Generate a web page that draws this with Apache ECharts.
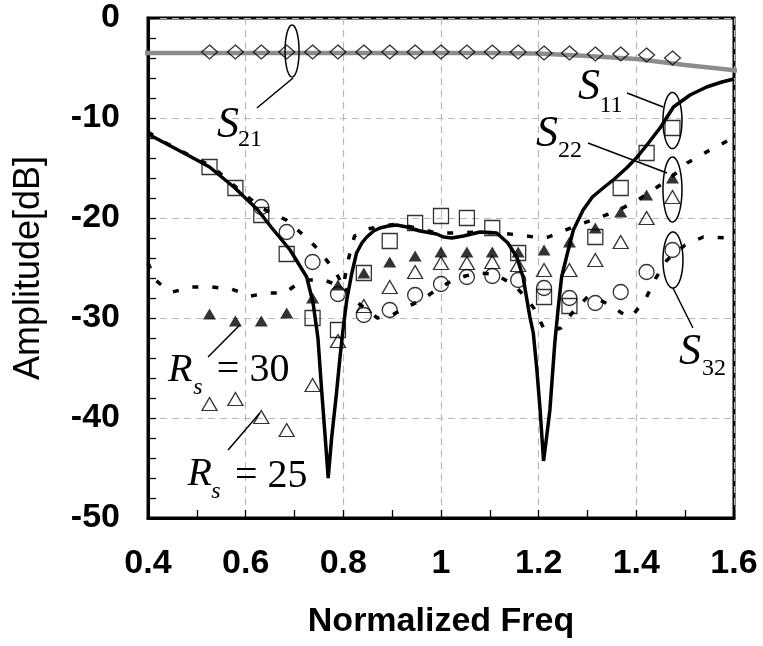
<!DOCTYPE html>
<html>
<head>
<meta charset="utf-8">
<script src="https://cdn.jsdelivr.net/npm/echarts@6/dist/echarts.min.js"></script>
<style>
  html, body { margin: 0; padding: 0; background: #fff; }
  #chart { width: 763px; height: 646px; }
</style>
</head>
<body>
<div id="chart"></div>
<script>
// ---- axis tick labels ----
const xTickLabels = ['0.4', '0.6', '0.8', '1', '1.2', '1.4', '1.6'];
const yTickLabels = ['-50', '-40', '-30', '-20', '-10', '0'];

// ---- measured frequencies (normalized) ----
const measFreq = [0.526, 0.579, 0.632, 0.684, 0.737, 0.789, 0.842, 0.895, 0.947, 1.0,
                  1.053, 1.105, 1.158, 1.211, 1.263, 1.316, 1.368, 1.421, 1.474];

// measured S21 (diamonds)
const s21Meas = [-3.4, -3.4, -3.4, -3.4, -3.4, -3.4, -3.4, -3.4, -3.4, -3.4,
                 -3.4, -3.4, -3.4, -3.5, -3.5, -3.6, -3.6, -3.7, -4.0];
// measured S11 (squares)
const s11Meas = [-14.9, -17.0, -19.7, -23.6, -30.0, -31.2, -25.5, -22.3, -20.5, -19.8,
                 -20.0, -21.0, -23.5, -27.9, -28.8, -21.9, -17.0, -13.5, -11.0];
// measured S22, Rs = 30 (filled triangles)
const s22Rs30 = [-29.6, -30.3, -30.3, -29.5, -28.0, -26.7, -25.5, -24.4, -23.8, -23.4,
                 -23.4, -23.4, -23.4, -23.2, -22.4, -21.0, -19.4, -17.7, -16.0];
// measured S22, Rs = 25 (open triangles)
const s22Rs25 = [-38.6, -38.1, -39.9, -41.2, -36.7, -32.3, -28.8, -26.9, -25.4, -24.5,
                 -24.5, -24.4, -24.7, -25.2, -25.2, -24.2, -22.4, -20.0, -17.9];
// measured S32 (circles), from 0.632 upward
const s32MeasFreq = [0.632, 0.684, 0.737, 0.789, 0.842, 0.895, 0.947, 1.0, 1.053, 1.105,
                     1.158, 1.211, 1.263, 1.316, 1.368, 1.421, 1.474];
const s32Meas = [-18.9, -21.4, -24.4, -27.6, -29.7, -29.2, -27.7, -26.6, -25.9, -25.8,
                 -26.2, -27.0, -28.0, -28.5, -27.4, -25.4, -23.2];

// ---- simulated curves ----
const s21SimFreq = [0.384, 0.5, 0.7, 0.9, 1.1, 1.2, 1.3, 1.4, 1.5, 1.615];
const s21Sim = [-3.5, -3.5, -3.5, -3.5, -3.5, -3.55, -3.8, -4.1, -4.7, -5.3];

const s11SimFreq = [0.40, 0.45, 0.50, 0.526, 0.578, 0.625, 0.652, 0.691, 0.725, 0.738,
                    0.748, 0.756, 0.763, 0.769, 0.776, 0.786, 0.793, 0.80, 0.807, 0.817,
                    0.827, 0.838, 0.848, 0.862, 0.875, 0.892, 0.909, 0.93, 0.957, 0.991,
                    1.005, 1.022, 1.046, 1.08, 1.114, 1.137, 1.155, 1.168, 1.182, 1.189,
                    1.196, 1.203, 1.21, 1.216, 1.223, 1.233, 1.24, 1.247, 1.257, 1.271,
                    1.291, 1.31, 1.332, 1.355, 1.38, 1.40, 1.42, 1.45, 1.476, 1.51,
                    1.544, 1.575, 1.60];
const s11Sim = [-11.6, -12.9, -14.2, -14.9, -17.0, -19.2, -20.9, -23.2, -25.9, -28.5,
                -32.0, -37.5, -42.0, -46.0, -42.0, -37.5, -34.0, -30.9, -28.2, -25.6,
                -23.5, -22.5, -21.9, -21.3, -21.0, -20.8, -20.7, -20.9, -21.3, -21.6,
                -21.9, -22.0, -21.8, -21.4, -21.5, -22.5, -23.9, -25.9, -29.9, -31.5,
                -35.0, -39.2, -44.3, -42.0, -39.2, -32.5, -29.0, -25.9, -23.9, -21.2,
                -19.2, -17.9, -17.0, -16.1, -15.0, -14.0, -12.8, -10.9, -8.9, -7.7,
                -6.9, -6.4, -6.1];

const s22SimFreq = [0.40, 0.43, 0.455, 0.50, 0.53, 0.58, 0.632, 0.683, 0.718, 0.748,
                    0.783, 0.80, 0.81, 0.823, 0.85, 0.87, 0.909, 0.95, 0.99, 1.03,
                    1.075, 1.12, 1.16, 1.19, 1.21, 1.22, 1.24, 1.27, 1.31, 1.36,
                    1.40, 1.44, 1.47, 1.504, 1.551, 1.59, 1.60];
const s22Sim = [-11.4, -12.3, -13.0, -14.1, -14.8, -16.9, -19.0, -20.2, -21.7, -23.1,
                -25.3, -26.8, -24.2, -21.8, -21.1, -20.9, -20.6, -21.0, -21.5, -21.5,
                -21.4, -21.5, -21.7, -21.9, -22.0, -21.9, -21.5, -20.9, -20.2, -19.3,
                -18.3, -17.0, -16.0, -14.5, -13.2, -12.2, -12.0];

const s32SimFreq = [0.40, 0.415, 0.43, 0.45, 0.49, 0.53, 0.57, 0.61, 0.645, 0.68,
                    0.70, 0.72, 0.76, 0.80, 0.83, 0.87, 0.90, 0.93, 0.96, 0.99,
                    1.025, 1.05, 1.075, 1.11, 1.15, 1.165, 1.19, 1.21, 1.225, 1.245,
                    1.27, 1.30, 1.325, 1.346, 1.37, 1.39, 1.42, 1.44, 1.463, 1.50,
                    1.537, 1.585, 1.60];
const s32Sim = [-24.5, -26.2, -26.8, -27.4, -26.9, -26.9, -27.1, -27.8, -27.5, -27.5,
                -26.8, -26.2, -26.2, -26.9, -28.5, -30.0, -29.7, -28.9, -28.2, -27.2,
                -26.2, -25.8, -25.5, -25.6, -26.7, -27.5, -29.0, -31.0, -31.3, -31.0,
                -29.4, -27.9, -28.2, -28.7, -29.5, -29.9, -28.0, -26.0, -24.2, -22.7,
                -21.9, -22.0, -22.0];

// ---- callouts (positions in data units, sizes in px) ----
const serif = "'Liberation Serif', 'Times New Roman', serif";
const callouts = [
  { ellipse: { at: [0.695, -3.3], rx: 7, ry: 26 },
    leader: [[0.697, -6.0], [0.623, -9.0]],
    texts: [{ text: 'S', at: [0.564, -10.7], size: 44, italic: true },
            { text: '21', at: [0.609, -12.2], size: 24 }] },
  { ellipse: { at: [1.474, -10.25], rx: 9.5, ry: 28 },
    leader: [[1.455, -8.9], [1.381, -7.5]],
    texts: [{ text: 'S', at: [1.303, -6.9], size: 44, italic: true },
            { text: '11', at: [1.348, -8.8], size: 24 }] },
  { ellipse: { at: [1.474, -17.15], rx: 9.5, ry: 32.5 },
    leader: [[1.301, -12.5], [1.463, -15.5]],
    texts: [{ text: 'S', at: [1.217, -11.6], size: 44, italic: true },
            { text: '22', at: [1.264, -13.3], size: 24 }] },
  { ellipse: { at: [1.475, -24.2], rx: 10, ry: 28 },
    leader: [[1.475, -27.0], [1.516, -31.0]],
    texts: [{ text: 'S', at: [1.510, -33.4], size: 44, italic: true },
            { text: '32', at: [1.559, -35.1], size: 24 }] },
  { leader: [[0.523, -33.9], [0.588, -30.7]],
    texts: [{ text: 'R', at: [0.466, -35.2], size: 40, italic: true },
            { text: 's', at: [0.502, -37.0], size: 24, italic: true },
            { text: '= 30', at: [0.541, -35.2], size: 40, align: 'left' }] },
  { leader: [[0.564, -43.2], [0.629, -39.5]],
    texts: [{ text: 'R', at: [0.506, -45.6], size: 40, italic: true },
            { text: 's', at: [0.539, -47.4], size: 24, italic: true },
            { text: '= 25', at: [0.578, -45.8], size: 40, align: 'left' }] }
];

const pairs = (xs, ys) => xs.map((x, i) => [x, ys[i]]);

const sans = "'Liberation Sans', Arial, sans-serif";
const sansBold = { fontFamily: sans, fontWeight: 'bold', color: '#000' };
const hollow = { color: 'rgba(0,0,0,0)', borderColor: '#000', borderWidth: 1.3 };

const chart = echarts.init(document.getElementById('chart'), null, { renderer: 'canvas' });

function renderCallout(params, api) {
  const c = callouts[params.dataIndex];
  const children = [];
  if (c.ellipse) {
    const p = api.coord(c.ellipse.at);
    const pts = [];
    for (let k = 0; k < 72; k++) {
      const t = (k / 72) * Math.PI * 2;
      pts.push([p[0] + c.ellipse.rx * Math.cos(t), p[1] + c.ellipse.ry * Math.sin(t)]);
    }
    children.push({ type: 'polygon', shape: { points: pts },
      style: { fill: 'none', stroke: '#000', lineWidth: 1.5 } });
  }
  if (c.leader) {
    const a = api.coord(c.leader[0]);
    const b = api.coord(c.leader[1]);
    children.push({ type: 'line', shape: { x1: a[0], y1: a[1], x2: b[0], y2: b[1] },
      style: { stroke: '#000', lineWidth: 1.5 } });
  }
  c.texts.forEach(t => {
    const p = api.coord(t.at);
    children.push({ type: 'text', x: p[0], y: p[1],
      style: { text: t.text, fill: '#000',
        font: (t.italic ? 'italic ' : '') + t.size + 'px ' + serif,
        align: t.align || 'center', verticalAlign: 'middle' } });
  });
  return { type: 'group', children };
}

const option = {
  animation: false,
  backgroundColor: '#fff',
  grid: { left: 148, right: 29, top: 18, bottom: 128, show: true, outerBoundsMode: 'none',
          containLabel: false,
          borderColor: '#000', borderWidth: 3, backgroundColor: 'rgba(0,0,0,0)' },
  xAxis: {
    type: 'value', min: 0.4, max: 1.6, interval: 0.2,
    axisLine: { show: true, onZero: false, lineStyle: { color: '#000', width: 3 } },
    axisTick: { show: true, inside: true, length: 8, lineStyle: { color: '#000', width: 1.3 } },
    minorTick: { show: true, splitNumber: 2, length: 8, lineStyle: { color: '#000', width: 1.3 } },
    splitLine: { show: true, lineStyle: { color: '#b8b8b8', width: 1.2, type: [7, 5] } },
    axisLabel: Object.assign({ fontSize: 34, margin: 29,
      formatter: v => xTickLabels[Math.round((v - 0.4) / 0.2)] }, sansBold),
    name: 'Normalized Freq', nameLocation: 'middle', nameGap: 87,
    nameTextStyle: Object.assign({ fontSize: 34 }, sansBold)
  },
  yAxis: {
    type: 'value', min: -50, max: 0, interval: 10,
    axisLine: { show: true, onZero: false, lineStyle: { color: '#000', width: 3 } },
    axisTick: { show: true, inside: true, length: 8, lineStyle: { color: '#000', width: 1.3 } },
    minorTick: { show: true, splitNumber: 5, length: 8, lineStyle: { color: '#000', width: 1.3 } },
    splitLine: { show: true, lineStyle: { color: '#b8b8b8', width: 1.2, type: [7, 5] } },
    axisLabel: Object.assign({ fontSize: 34, margin: 28,
      formatter: v => yTickLabels[Math.round((v + 50) / 10)] }, sansBold),
    name: 'Amplitude[dB]', nameLocation: 'middle', nameGap: 101,
    nameTextStyle: { fontSize: 36, fontFamily: sans, color: '#000' }
  },
  series: [
    { name: 'S21 sim', type: 'line', data: pairs(s21SimFreq, s21Sim), showSymbol: false, clip: false,
      lineStyle: { color: '#8c8c8c', width: 4.5 }, z: 2 },
    { name: 'S32 sim', type: 'line', data: pairs(s32SimFreq, s32Sim), showSymbol: false,
      lineStyle: { color: '#000', width: 3.5, type: [6, 14] }, z: 2 },
    { name: 'S22 sim', type: 'line', data: pairs(s22SimFreq, s22Sim), showSymbol: false,
      lineStyle: { color: '#000', width: 3.5, type: [6, 14] }, z: 2 },
    { name: 'S11 sim', type: 'line', data: pairs(s11SimFreq, s11Sim), showSymbol: false,
      lineStyle: { color: '#000', width: 3.5 }, z: 3 },
    { name: 'S21 meas', type: 'scatter', data: pairs(measFreq, s21Meas), symbol: 'diamond',
      symbolSize: [16, 14], itemStyle: hollow, z: 4 },
    { name: 'S11 meas', type: 'scatter', data: pairs(measFreq, s11Meas), symbol: 'rect',
      symbolSize: 15, itemStyle: hollow, z: 4 },
    { name: 'S32 meas', type: 'scatter', data: pairs(s32MeasFreq, s32Meas), symbol: 'circle',
      symbolSize: 15, itemStyle: hollow, z: 4 },
    { name: 'S22 Rs=25', type: 'scatter', data: pairs(measFreq, s22Rs25), symbol: 'triangle',
      symbolSize: [15, 13], itemStyle: hollow, z: 4 },
    { name: 'S22 Rs=30', type: 'scatter', data: pairs(measFreq, s22Rs30), symbol: 'triangle',
      symbolSize: [13, 11], itemStyle: { color: '#000' }, z: 4 },
    { name: 'callouts', type: 'custom', renderItem: renderCallout, silent: true, z: 5,
      data: callouts.map(c => c.ellipse ? c.ellipse.at : c.leader[0]) }
  ]
};

chart.setOption(option);
</script>
</body>
</html>
